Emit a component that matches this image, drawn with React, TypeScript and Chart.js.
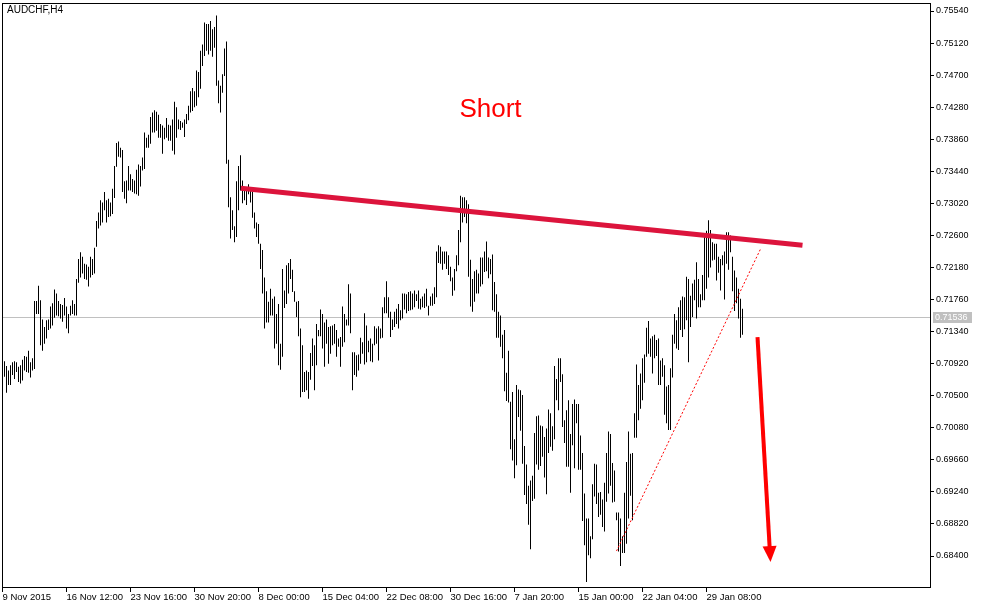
import { useEffect, useRef } from "react";
import { Chart, registerables } from "chart.js";

Chart.register(...registerables);

const symbolTitle = "AUDCHF,H4";

const xTickLabels = [
  "9 Nov 2015", "16 Nov 12:00", "23 Nov 16:00", "30 Nov 20:00", "8 Dec 00:00", "15 Dec 04:00",
  "22 Dec 08:00", "30 Dec 16:00", "7 Jan 20:00", "15 Jan 00:00", "22 Jan 04:00", "29 Jan 08:00",
];
const barsPerLabel = 32;

const yTickValues = [
  0.7554, 0.7512, 0.747, 0.7428, 0.7386, 0.7344, 0.7302, 0.726, 0.7218, 0.7176,
  0.7134, 0.7092, 0.705, 0.7008, 0.6966, 0.6924, 0.6882, 0.684,
];

const highs = [
  0.7095, 0.7089, 0.7083, 0.7090, 0.7094, 0.7095, 0.7094, 0.7088, 0.7090, 0.7097,
  0.7102, 0.7101, 0.7109, 0.7094, 0.7099, 0.7174, 0.7174, 0.7194, 0.7175, 0.7150,
  0.7140, 0.7149, 0.7150, 0.7167, 0.7171, 0.7189, 0.7184, 0.7174, 0.7170, 0.7169,
  0.7178, 0.7167, 0.7157, 0.7168, 0.7175, 0.7170, 0.7203, 0.7229, 0.7238, 0.7232,
  0.7223, 0.7222, 0.7219, 0.7232, 0.7229, 0.7244, 0.7279, 0.7290, 0.7306, 0.7303,
  0.7317, 0.7306, 0.7308, 0.7303, 0.7321, 0.7351, 0.7381, 0.7383, 0.7375, 0.7372,
  0.7331, 0.7332, 0.7351, 0.7340, 0.7334, 0.7332, 0.7346, 0.7353, 0.7351, 0.7362,
  0.7395, 0.7388, 0.7392, 0.7415, 0.7421, 0.7424, 0.7422, 0.7418, 0.7406, 0.7404,
  0.7401, 0.7414, 0.7405, 0.7404, 0.7412, 0.7435, 0.7428, 0.7412, 0.7410, 0.7408,
  0.7412, 0.7419, 0.7430, 0.7449, 0.7453, 0.7449, 0.7476, 0.7474, 0.7502, 0.7510,
  0.7539, 0.7537, 0.7537, 0.7541, 0.7530, 0.7533, 0.7548, 0.7463, 0.7456, 0.7471,
  0.7505, 0.7514, 0.7359, 0.7310, 0.7293, 0.7272, 0.7331, 0.7351, 0.7365, 0.7332,
  0.7323, 0.7323, 0.7327, 0.7323, 0.7317, 0.7290, 0.7277, 0.7275, 0.7249, 0.7241,
  0.7205, 0.7187, 0.7173, 0.7190, 0.7177, 0.7180, 0.7157, 0.7170, 0.7118, 0.7216,
  0.7188, 0.7221, 0.7224, 0.7229, 0.7215, 0.7187, 0.7173, 0.7174, 0.7138, 0.7116,
  0.7081, 0.7083, 0.7081, 0.7106, 0.7125, 0.7116, 0.7144, 0.7136, 0.7163, 0.7157,
  0.7146, 0.7150, 0.7140, 0.7141, 0.7142, 0.7144, 0.7136, 0.7125, 0.7127, 0.7167,
  0.7157, 0.7150, 0.7196, 0.7184, 0.7107, 0.7107, 0.7103, 0.7104, 0.7126, 0.7120,
  0.7158, 0.7142, 0.7122, 0.7125, 0.7118, 0.7141, 0.7138, 0.7141, 0.7138, 0.7166,
  0.7179, 0.7200, 0.7179, 0.7160, 0.7150, 0.7160, 0.7164, 0.7170, 0.7162, 0.7184,
  0.7184, 0.7183, 0.7186, 0.7187, 0.7184, 0.7188, 0.7183, 0.7188, 0.7177, 0.7180,
  0.7184, 0.7190, 0.7168, 0.7180, 0.7184, 0.7192, 0.7239, 0.7247, 0.7245, 0.7239,
  0.7239, 0.7239, 0.7234, 0.7219, 0.7205, 0.7216, 0.7234, 0.7267, 0.7312, 0.7310,
  0.7310, 0.7306, 0.7301, 0.7228, 0.7203, 0.7213, 0.7215, 0.7210, 0.7231, 0.7231,
  0.7239, 0.7252, 0.7231, 0.7229, 0.7235, 0.7199, 0.7183, 0.7160, 0.7155, 0.7130,
  0.7136, 0.7080, 0.7109, 0.7042, 0.7055, 0.6993, 0.7064, 0.7058, 0.7057, 0.7051,
  0.6984, 0.6960, 0.6932, 0.6939, 0.6945, 0.7001, 0.7023, 0.7024, 0.7011, 0.7010,
  0.6996, 0.7007, 0.7032, 0.7027, 0.7010, 0.7089, 0.7072, 0.7099, 0.7099, 0.7078,
  0.7018, 0.7031, 0.7044, 0.7000, 0.7039, 0.7045, 0.7039, 0.7039, 0.6998, 0.6975,
  0.6922, 0.6889, 0.6889, 0.6866, 0.6934, 0.6961, 0.6960, 0.6923, 0.6924, 0.6914,
  0.6936, 0.6975, 0.7003, 0.7000, 0.6962, 0.6952, 0.6897, 0.6897, 0.6889, 0.6866,
  0.6923, 0.6963, 0.7003, 0.6974, 0.6975, 0.7027, 0.7091, 0.7064, 0.7079, 0.7099,
  0.7104, 0.7139, 0.7148, 0.7125, 0.7128, 0.7130, 0.7123, 0.7125, 0.7096, 0.7099,
  0.7090, 0.7062, 0.7064, 0.7086, 0.7130, 0.7157, 0.7149, 0.7166, 0.7175, 0.7180,
  0.7179, 0.7206, 0.7203, 0.7181, 0.7197, 0.7202, 0.7225, 0.7203, 0.7183, 0.7208,
  0.7260, 0.7266, 0.7280, 0.7267, 0.7251, 0.7249, 0.7249, 0.7232, 0.7229, 0.7234,
  0.7239, 0.7264, 0.7264, 0.7260, 0.7232, 0.7214, 0.7205, 0.7190, 0.7177, 0.7164,
];

const lows = [
  0.7075, 0.7054, 0.7064, 0.7064, 0.7077, 0.7072, 0.7081, 0.7068, 0.7066, 0.7070,
  0.7083, 0.7081, 0.7080, 0.7074, 0.7083, 0.7085, 0.7157, 0.7157, 0.7116, 0.7109,
  0.7118, 0.7125, 0.7136, 0.7138, 0.7142, 0.7152, 0.7155, 0.7154, 0.7151, 0.7147,
  0.7155, 0.7138, 0.7132, 0.7155, 0.7157, 0.7155, 0.7155, 0.7198, 0.7205, 0.7210,
  0.7203, 0.7202, 0.7193, 0.7205, 0.7208, 0.7210, 0.7245, 0.7269, 0.7273, 0.7277,
  0.7293, 0.7277, 0.7284, 0.7285, 0.7288, 0.7309, 0.7350, 0.7363, 0.7362, 0.7317,
  0.7308, 0.7302, 0.7319, 0.7319, 0.7317, 0.7315, 0.7314, 0.7312, 0.7324, 0.7345,
  0.7347, 0.7375, 0.7375, 0.7380, 0.7395, 0.7395, 0.7397, 0.7388, 0.7388, 0.7367,
  0.7386, 0.7388, 0.7384, 0.7384, 0.7371, 0.7366, 0.7388, 0.7399, 0.7398, 0.7401,
  0.7389, 0.7406, 0.7411, 0.7421, 0.7423, 0.7428, 0.7430, 0.7441, 0.7452, 0.7482,
  0.7495, 0.7502, 0.7497, 0.7502, 0.7494, 0.7506, 0.7456, 0.7433, 0.7421, 0.7447,
  0.7469, 0.7354, 0.7297, 0.7256, 0.7267, 0.7251, 0.7258, 0.7293, 0.7319, 0.7302,
  0.7306, 0.7300, 0.7314, 0.7303, 0.7283, 0.7269, 0.7258, 0.7249, 0.7216, 0.7184,
  0.7138, 0.7146, 0.7146, 0.7155, 0.7155, 0.7112, 0.7118, 0.7090, 0.7084, 0.7101,
  0.7165, 0.7170, 0.7184, 0.7203, 0.7186, 0.7173, 0.7153, 0.7128, 0.7048, 0.7055,
  0.7055, 0.7057, 0.7046, 0.7071, 0.7089, 0.7057, 0.7090, 0.7128, 0.7128, 0.7112,
  0.7088, 0.7118, 0.7092, 0.7105, 0.7116, 0.7118, 0.7101, 0.7114, 0.7088, 0.7114,
  0.7120, 0.7142, 0.7142, 0.7132, 0.7057, 0.7077, 0.7075, 0.7083, 0.7092, 0.7105,
  0.7091, 0.7094, 0.7107, 0.7095, 0.7094, 0.7116, 0.7118, 0.7096, 0.7125, 0.7126,
  0.7158, 0.7158, 0.7152, 0.7127, 0.7136, 0.7140, 0.7144, 0.7138, 0.7149, 0.7151,
  0.7163, 0.7158, 0.7161, 0.7162, 0.7163, 0.7166, 0.7174, 0.7164, 0.7163, 0.7166,
  0.7165, 0.7167, 0.7155, 0.7168, 0.7168, 0.7170, 0.7179, 0.7224, 0.7223, 0.7215,
  0.7223, 0.7216, 0.7208, 0.7200, 0.7181, 0.7188, 0.7213, 0.7221, 0.7251, 0.7277,
  0.7284, 0.7276, 0.7206, 0.7167, 0.7160, 0.7173, 0.7184, 0.7184, 0.7193, 0.7196,
  0.7212, 0.7213, 0.7204, 0.7209, 0.7162, 0.7160, 0.7126, 0.7126, 0.7114, 0.7099,
  0.7056, 0.7043, 0.7041, 0.6980, 0.6965, 0.6942, 0.6959, 0.7022, 0.7004, 0.6961,
  0.6920, 0.6908, 0.6881, 0.6849, 0.6912, 0.6915, 0.6960, 0.6953, 0.6958, 0.6970,
  0.6943, 0.6921, 0.6975, 0.6983, 0.6978, 0.6993, 0.7044, 0.7031, 0.7068, 0.7009,
  0.6988, 0.6957, 0.6957, 0.6923, 0.6985, 0.6955, 0.7014, 0.6953, 0.6953, 0.6886,
  0.6854, 0.6806, 0.6841, 0.6837, 0.6862, 0.6918, 0.6908, 0.6891, 0.6894, 0.6878,
  0.6872, 0.6911, 0.6922, 0.6932, 0.6910, 0.6911, 0.6887, 0.6846, 0.6827, 0.6844,
  0.6844, 0.6856, 0.6889, 0.6919, 0.6887, 0.6995, 0.6995, 0.7018, 0.7033, 0.7044,
  0.7067, 0.7101, 0.7105, 0.7101, 0.7079, 0.7099, 0.7102, 0.7064, 0.7064, 0.7075,
  0.7025, 0.7014, 0.7005, 0.7005, 0.7074, 0.7118, 0.7112, 0.7110, 0.7136, 0.7127,
  0.7137, 0.7149, 0.7094, 0.7140, 0.7153, 0.7175, 0.7151, 0.7166, 0.7166, 0.7175,
  0.7175, 0.7190, 0.7205, 0.7218, 0.7227, 0.7228, 0.7201, 0.7211, 0.7188, 0.7221,
  0.7176, 0.7223, 0.7215, 0.7238, 0.7187, 0.7161, 0.7171, 0.7151, 0.7126, 0.7130,
];

const currentPrice = 0.71536;
const resistanceLine = [
  { x: 118.15, y: 0.73217 },
  { x: 399, y: 0.72472 },
];
const supportLine = [
  { x: 306, y: 0.68465 },
  { x: 378, y: 0.72422 },
];
const arrowLine = [
  { x: 376.5, y: 0.71269 },
  { x: 383, y: 0.68321 },
];
const shortLabel = { text: "Short", x: 243, y: 0.7424 };

const FONT = "'Liberation Sans', Arial, sans-serif";

export default function App() {
  const ref = useRef<HTMLCanvasElement | null>(null);

  useEffect(() => {
    document.body.style.margin = "0";
    const canvas = ref.current;
    if (!canvas) return;

    const overlay = {
      id: "mtOverlay",
      beforeDatasetsDraw(chart: any) {
        const { ctx, chartArea: a, scales } = chart;
        const py = Math.round(scales.y.getPixelForValue(currentPrice)) + 0.5;
        ctx.save();
        ctx.strokeStyle = "#c0c0c0";
        ctx.lineWidth = 1;
        ctx.beginPath();
        ctx.moveTo(a.left, py);
        ctx.lineTo(a.right, py);
        ctx.stroke();
        ctx.restore();
      },
      afterDatasetsDraw(chart: any) {
        const { ctx, scales } = chart;
        const xs = scales.x;
        const ys = scales.y;
        const tx = xs.getPixelForValue(arrowLine[1].x);
        const ty = ys.getPixelForValue(arrowLine[1].y);
        const sx = xs.getPixelForValue(arrowLine[0].x);
        const sy = ys.getPixelForValue(arrowLine[0].y);
        const dx = tx - sx;
        const dy = ty - sy;
        const len = Math.hypot(dx, dy);
        const ux = dx / len;
        const uy = dy / len;
        const headLen = 16;
        const headHalf = 7;
        const bx = tx - ux * headLen;
        const by = ty - uy * headLen;
        ctx.save();
        ctx.strokeStyle = "#ff0000";
        ctx.fillStyle = "#ff0000";
        ctx.lineWidth = 4;
        ctx.beginPath();
        ctx.moveTo(sx, sy);
        ctx.lineTo(bx + ux * 2, by + uy * 2);
        ctx.stroke();
        ctx.beginPath();
        ctx.moveTo(tx, ty);
        ctx.lineTo(bx - uy * headHalf, by + ux * headHalf);
        ctx.lineTo(bx + uy * headHalf, by - ux * headHalf);
        ctx.closePath();
        ctx.fill();
        ctx.font = `26px ${FONT}`;
        ctx.textAlign = "center";
        ctx.textBaseline = "middle";
        ctx.fillText(shortLabel.text, xs.getPixelForValue(shortLabel.x), ys.getPixelForValue(shortLabel.y));
        ctx.restore();
      },
      afterDraw(chart: any) {
        const { ctx, chartArea: a, scales } = chart;
        ctx.save();
        ctx.strokeStyle = "#000";
        ctx.lineWidth = 1;
        ctx.strokeRect(a.left + 0.5, a.top + 0.5, a.right - a.left, a.bottom - a.top);
        ctx.fillStyle = "#000";
        ctx.font = `10px ${FONT}`;
        ctx.textAlign = "left";
        ctx.textBaseline = "top";
        ctx.fillText(symbolTitle, a.left + 5, a.top + 2);
        const py = Math.round(scales.y.getPixelForValue(currentPrice));
        ctx.fillStyle = "#c0c0c0";
        ctx.fillRect(a.right + 3, py - 5, 39, 11);
        ctx.fillStyle = "#ffffff";
        ctx.font = `9px ${FONT}`;
        ctx.textBaseline = "middle";
        ctx.fillText(currentPrice.toFixed(5), a.right + 5, py + 0.5);
        ctx.restore();
      },
    };

    const chart = new Chart(canvas, {
      type: "bar",
      data: {
        datasets: [
          {
            type: "line",
            data: resistanceLine,
            borderColor: "rgb(220,20,60)",
            borderWidth: 5,
            pointRadius: 0,
            pointHoverRadius: 0,
            tension: 0,
            order: 1,
          } as any,
          {
            type: "line",
            data: supportLine,
            borderColor: "#ff0000",
            borderWidth: 1,
            borderDash: [2, 2],
            pointRadius: 0,
            pointHoverRadius: 0,
            tension: 0,
            order: 1,
          } as any,
          {
            type: "bar",
            data: highs.map((h, i) => ({ x: i, y: [lows[i], h] })),
            backgroundColor: "#000000",
            borderWidth: 0,
            barThickness: 1,
            inflateAmount: 0,
            grouped: false,
            order: 3,
          } as any,
        ],
      },
      options: {
        responsive: false,
        animation: false,
        devicePixelRatio: 1,
        events: [],
        layout: { padding: { left: 2, top: 3, right: 0, bottom: 0 } },
        plugins: {
          legend: { display: false },
          tooltip: { enabled: false },
        },
        scales: {
          x: {
            type: "linear",
            min: -1.25,
            max: 462.75,
            offset: false,
            bounds: "data",
            grid: {
              display: true,
              drawOnChartArea: false,
              drawTicks: true,
              tickLength: 5,
              color: "#000",
              offset: false,
            },
            border: { display: true, color: "#000" },
            ticks: {
              autoSkip: false,
              maxRotation: 0,
              minRotation: 0,
              align: "start",
              padding: 0,
              color: "#000",
              font: { family: FONT, size: 9.5 },
              callback: (_v: any, idx: number) => xTickLabels[idx] ?? "",
            },
            afterBuildTicks: (s: any) => {
              s.ticks = xTickLabels.map((_, k) => ({ value: k * barsPerLabel - 1 }));
            },
            afterFit: (s: any) => {
              s.height = 21;
              s.paddingLeft = 0;
              s.paddingRight = 0;
            },
          } as any,
          y: {
            type: "linear",
            position: "right",
            min: 0.67994,
            max: 0.75645,
            bounds: "data",
            grid: {
              display: true,
              drawOnChartArea: false,
              drawTicks: true,
              tickLength: 4,
              color: "#000",
            },
            border: { display: true, color: "#000" },
            ticks: {
              padding: 2,
              color: "#000",
              font: { family: FONT, size: 9 },
              callback: (v: any) => Number(v).toFixed(5),
            },
            afterBuildTicks: (s: any) => {
              s.ticks = yTickValues.map((v) => ({ value: v }));
            },
            afterFit: (s: any) => {
              s.width = 53;
              s.paddingTop = 0;
              s.paddingBottom = 0;
            },
          } as any,
        },
      },
      plugins: [overlay],
    });

    return () => chart.destroy();
  }, []);

  return (
    <div style={{ position: "absolute", left: 0, top: 0, width: 983, height: 608 }}>
      <canvas ref={ref} width={983} height={608} style={{ display: "block", width: 983, height: 608 }} />
    </div>
  );
}
